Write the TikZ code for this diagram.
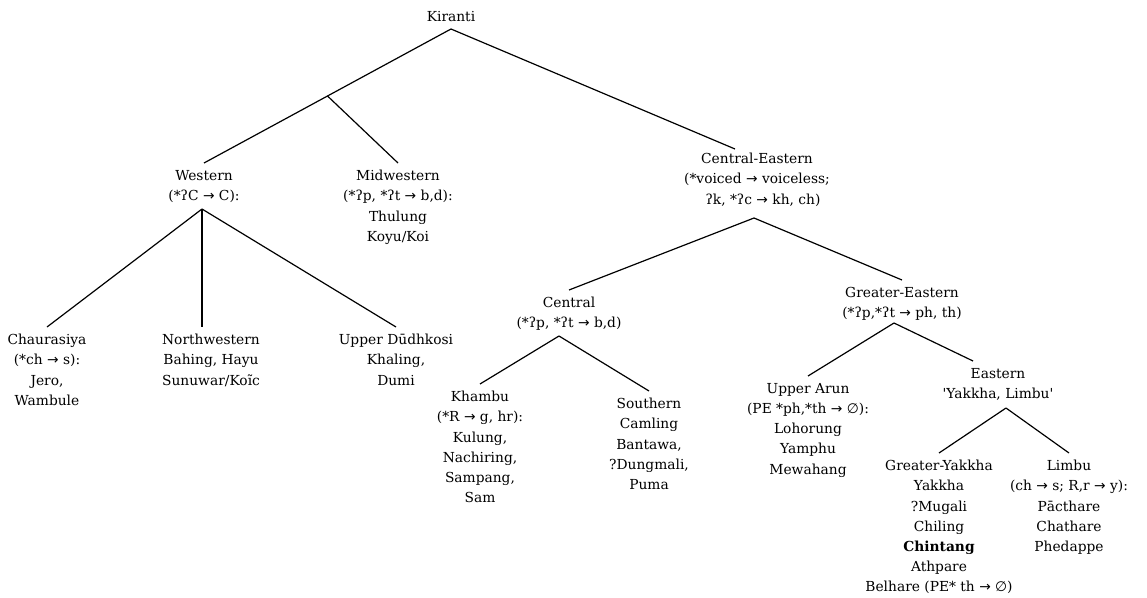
\documentclass[tikz,border=0pt]{standalone}
\usepackage{fontspec}
\setmainfont{DejaVu Serif}
\newfontfamily\symf{DejaVu Sans}
\usetikzlibrary{calc}
\newcommand{\ra}{{\symf →}}
\newcommand{\nul}{{\symf ∅}}
\begin{document}
\begin{tikzpicture}[x=1pt,y=-1pt,
  lang/.style={align=center, inner xsep=0pt, inner ysep=7pt, font=\fontsize{13.8}{20.2}\selectfont},
  branch/.style={line width=1.2pt}]
\useasboundingbox (0,0) rectangle (1147,597);
% nodes
\node[lang, anchor=south] (k) at (451,29) {Kiranti};
\node[lang, anchor=north] (w) at (204,163) {Western\\(*ʔC \ra{} C):};
\node[lang, anchor=north] (mw) at (398,163) {Midwestern\\(*ʔp, *ʔt \ra{} b,d):\\Thulung\\Koyu/Koi};
\node[lang, anchor=north] (ce) at (757,146) {Central-Eastern\\(*voiced \ra{} voiceless;\\\hspace*{12pt}ʔk, *ʔc \ra{} kh, ch)};
\node[lang, anchor=north] (ch) at (47,327) {Chaurasiya\\(*ch \ra{} s):\\Jero,\\Wambule};
\node[lang, anchor=north] (nw) at (211,327) {Northwestern\\Bahing, Hayu\\Sunuwar/Koĩc};
\node[lang, anchor=north] (ud) at (396,327) {Upper Dūdhkosi\\Khaling,\\Dumi};
\node[lang, anchor=north] (cen) at (569,290) {Central\\(*ʔp, *ʔt \ra{} b,d)};
\node[lang, anchor=north] (ge) at (902,280) {Greater-Eastern\\(*ʔp,*ʔt \ra{} ph, th)};
\node[lang, anchor=north] (kh) at (480,384) {Khambu\\(*R \ra{} g, hr):\\Kulung,\\Nachiring,\\Sampang,\\Sam};
\node[lang, anchor=north] (so) at (649,391) {Southern\\Camling\\Bantawa,\\?Dungmali,\\Puma};
\node[lang, anchor=north] (ua) at (808,376) {Upper Arun\\(PE *ph,*th \ra{} \nul):\\Lohorung\\Yamphu\\Mewahang};
\node[lang, anchor=north] (ea) at (998,361) {Eastern\\\textquotesingle Yakkha, Limbu\textquotesingle};
\node[lang, anchor=north] (gy) at (939,453) {Greater-Yakkha\\Yakkha\\?Mugali\\Chiling\\\textbf{Chintang}\\Athpare\\Belhare (PE* th \ra{} \nul)};
\node[lang, anchor=north] (li) at (1069,453) {Limbu\\(ch \ra{} s; R,r \ra{} y):\\Pācthare\\Chathare\\Phedappe};
% junctions
\coordinate (km) at ($(k.south)!0.5!(w.north)$);
\coordinate (wA) at (202,209);
\coordinate (ceA) at (754,218);
\coordinate (cenA) at (559,336);
\coordinate (geA) at (894,323);
\coordinate (eaA) at (1006,408);
% connectors
\draw[branch] (k.south) -- (w.north);
\draw[branch] (km) -- (mw.north);
\draw[branch] (k.south) -- ($(ce.north)+(-22,3)$);
\draw[branch] (wA) -- (ch.north);
\draw[branch] (wA) -- (wA |- nw.north);
\draw[branch] (wA) -- (ud.north);
\draw[branch] (ceA) -- (cen.north);
\draw[branch] (ceA) -- (ge.north);
\draw[branch] (cenA) -- (kh.north);
\draw[branch] (cenA) -- (so.north);
\draw[branch] (geA) -- (ua.north);
\draw[branch] (geA) -- ($(ea.north)+(-25,0)$);
\draw[branch] (eaA) -- (gy.north);
\draw[branch] (eaA) -- (li.north);
\end{tikzpicture}
\end{document}
